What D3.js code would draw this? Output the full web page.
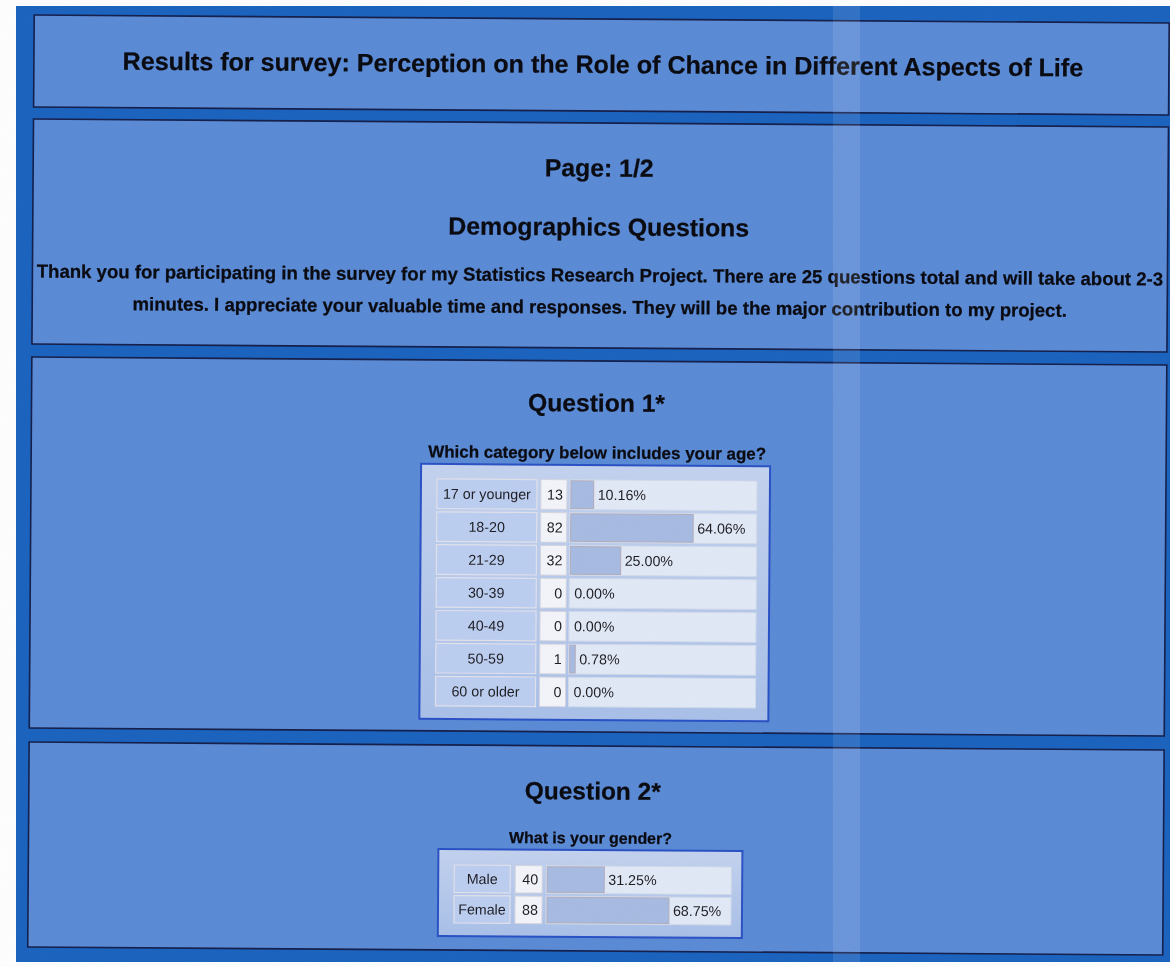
<!DOCTYPE html>
<html>
<head>
<meta charset="utf-8">
<script src="https://cdn.jsdelivr.net/npm/d3@7"></script>
<style>
  html, body { margin: 0; padding: 0; background: #ffffff; }
  svg { display: block; }
  text { font-family: "Liberation Sans", Arial, Helvetica, sans-serif; }
</style>
</head>
<body>
<svg id="chart" width="1170" height="967"></svg>
<script>
// ---------- data ----------
const surveyTitle = "Results for survey: Perception on the Role of Chance in Different Aspects of Life";
const pageLabel = "Page: 1/2";
const sectionTitle = "Demographics Questions";
const introLines = [
  "Thank you for participating in the survey for my Statistics Research Project. There are 25 questions total and will take about 2-3",
  "minutes. I appreciate your valuable time and responses. They will be the major contribution to my project."
];

const q1Title = "Question 1*";
const q1Text = "Which category below includes your age?";
const ageCategories = ["17 or younger", "18-20", "21-29", "30-39", "40-49", "50-59", "60 or older"];
const ageCounts = [13, 82, 32, 0, 0, 1, 0];
const agePercents = [10.16, 64.06, 25.00, 0.00, 0.00, 0.78, 0.00];

const q2Title = "Question 2*";
const q2Text = "What is your gender?";
const genderCategories = ["Male", "Female"];
const genderCounts = [40, 88];
const genderPercents = [31.25, 68.75];

// ---------- drawing ----------
const svg = d3.select("#chart");
const W = 1170, H = 967;
const pct = v => d3.format(".2f")(v) + "%";

const defs = svg.append("defs");
const grad = defs.append("linearGradient").attr("id", "tblGrad")
  .attr("x1", 0).attr("y1", 0).attr("x2", 0).attr("y2", 1);
grad.append("stop").attr("offset", "0%").attr("stop-color", "#c4d3ef");
grad.append("stop").attr("offset", "100%").attr("stop-color", "#aac1e9");

const noise = defs.append("filter").attr("id", "noise")
  .attr("x", 0).attr("y", 0).attr("width", "100%").attr("height", "100%");
noise.append("feTurbulence").attr("type", "fractalNoise")
  .attr("baseFrequency", 0.9).attr("numOctaves", 2).attr("seed", 3);
noise.append("feColorMatrix").attr("type", "saturate").attr("values", 0);

svg.append("rect").attr("width", W).attr("height", H).attr("fill", "#ffffff");

// outer dark blue field (paper edge, not skewed)
svg.append("rect").attr("x", 16).attr("y", 6).attr("width", W).attr("height", 956)
  .attr("fill", "#1c64c0");

const g = svg.append("g").attr("transform", "rotate(0.4 596 480)");

// panels
const panelBands = [[19, 111], [123, 348], [361, 732], [746, 951]];
g.selectAll("rect.panel").data(panelBands).join("rect")
  .attr("class", "panel")
  .attr("x", 31).attr("y", d => d[0])
  .attr("width", 1135).attr("height", d => d[1] - d[0])
  .attr("fill", "#5c8cd7").attr("stroke", "#15204c").attr("stroke-width", 1.6);

function fitText(sel, width) {
  const node = sel.node();
  const fs = parseFloat(sel.attr("font-size"));
  const len = node.getComputedTextLength();
  sel.attr("font-size", fs * width / len);
  return sel;
}

function heading(txt, cx, cy, size, width, weight = "bold") {
  const t = g.append("text").attr("x", cx).attr("y", cy)
    .attr("text-anchor", "middle").attr("dominant-baseline", "central")
    .attr("font-weight", weight).attr("font-size", size).attr("fill", "#0b0b12")
    .attr("stroke", "#0b0b12").attr("stroke-width", 0.25)
    .text(txt);
  if (width) fitText(t, width);
  return t;
}

heading(surveyTitle, 600, 64, 23, 961);
heading(pageLabel, 597, 168, 22, 109);
heading(sectionTitle, 597, 227, 23, 301);
heading(introLines[0], 598.5, 275, 17, 1127);
heading(introLines[1], 598.5, 307, 17, 935);
heading(q1Title, 596, 403, 24, 137);
heading(q2Title, 595, 791, 24, 136);
heading(q1Text, 597, 453, 15, 338);
heading(q2Text, 593, 838, 15, 163);

// size of the cell text, matched to the width of the widest label
const probe = g.append("text").attr("font-size", 13.5).text(ageCategories[0]);
const cellFont = 13.5 * 88 / probe.node().getComputedTextLength();
probe.remove();

function drawTable(cfg) {
  const { box, rowRange, labelX, countX, barX, cats, counts, percents, barScale, barPad } = cfg;
  g.append("rect").attr("x", box[0]).attr("y", box[1])
    .attr("width", box[2] - box[0]).attr("height", box[3] - box[1])
    .attr("fill", "url(#tblGrad)").attr("stroke", "#2b52c6").attr("stroke-width", 2);

  const y = d3.scaleBand().domain(cats).range(rowRange).paddingInner(0.1).paddingOuter(0);
  const rows = g.selectAll(null).data(cats.map((c, i) => ({ c, n: counts[i], p: percents[i] })))
    .join("g").attr("transform", d => `translate(0,${y(d.c)})`);
  const h = y.bandwidth();

  rows.append("rect").attr("x", labelX[0]).attr("width", labelX[1] - labelX[0]).attr("height", h)
    .attr("fill", "#bdcff1").attr("stroke", "#e2e2ec").attr("stroke-width", 1.2);
  rows.append("text").attr("x", (labelX[0] + labelX[1]) / 2).attr("y", h / 2)
    .attr("text-anchor", "middle").attr("dominant-baseline", "central")
    .attr("font-size", cellFont).attr("fill", "#1e1e24").text(d => d.c);

  rows.append("rect").attr("x", countX[0]).attr("width", countX[1] - countX[0]).attr("height", h)
    .attr("fill", "#f3f5fb").attr("stroke", "#d6d6e0").attr("stroke-width", 1);
  rows.append("text").attr("x", countX[1] - 4).attr("y", h / 2)
    .attr("text-anchor", "end").attr("dominant-baseline", "central")
    .attr("font-size", cellFont).attr("fill", "#1e1e24").text(d => d.n);

  rows.append("rect").attr("x", barX[0]).attr("width", barX[1] - barX[0]).attr("height", h)
    .attr("fill", "#e3eaf7").attr("stroke", "#d2dbeb").attr("stroke-width", 1);
  const bw = d => d.p > 0 ? barScale(d.p) + barPad : 0;
  rows.filter(d => d.p > 0).append("rect")
    .attr("x", barX[0] + 1).attr("y", 1).attr("width", bw).attr("height", h - 2)
    .attr("fill", "#a8bce3").attr("stroke", "#b3aebd").attr("stroke-width", 1);
  rows.append("text").attr("x", d => barX[0] + bw(d) + 5).attr("y", h / 2)
    .attr("dominant-baseline", "central")
    .attr("font-size", cellFont).attr("fill", "#1e1e24").text(d => pct(d.p));
}

drawTable({
  box: [421, 465, 770, 720],
  rowRange: [480, 707],
  labelX: [437, 537], countX: [541, 567], barX: [570, 757],
  cats: ageCategories, counts: ageCounts, percents: agePercents,
  barScale: d3.scaleLinear().domain([0, 100]).range([0, 185]), barPad: 4
});

drawTable({
  box: [441, 850, 745, 937],
  rowRange: [866, 924],
  labelX: [457, 513], countX: [518, 545], barX: [549, 734],
  cats: genderCategories, counts: genderCounts, percents: genderPercents,
  barScale: d3.scaleLinear().domain([0, 100]).range([0, 173]), barPad: 3
});

// scanner artifacts: subtle grain and a light vertical stripe
svg.append("rect").attr("width", W).attr("height", H)
  .attr("filter", "url(#noise)").attr("opacity", 0.07)
  .style("mix-blend-mode", "multiply");
svg.append("rect").attr("x", 833).attr("y", 0).attr("width", 27).attr("height", H)
  .attr("fill", "#ffffff").attr("opacity", 0.1);
</script>
</body>
</html>
